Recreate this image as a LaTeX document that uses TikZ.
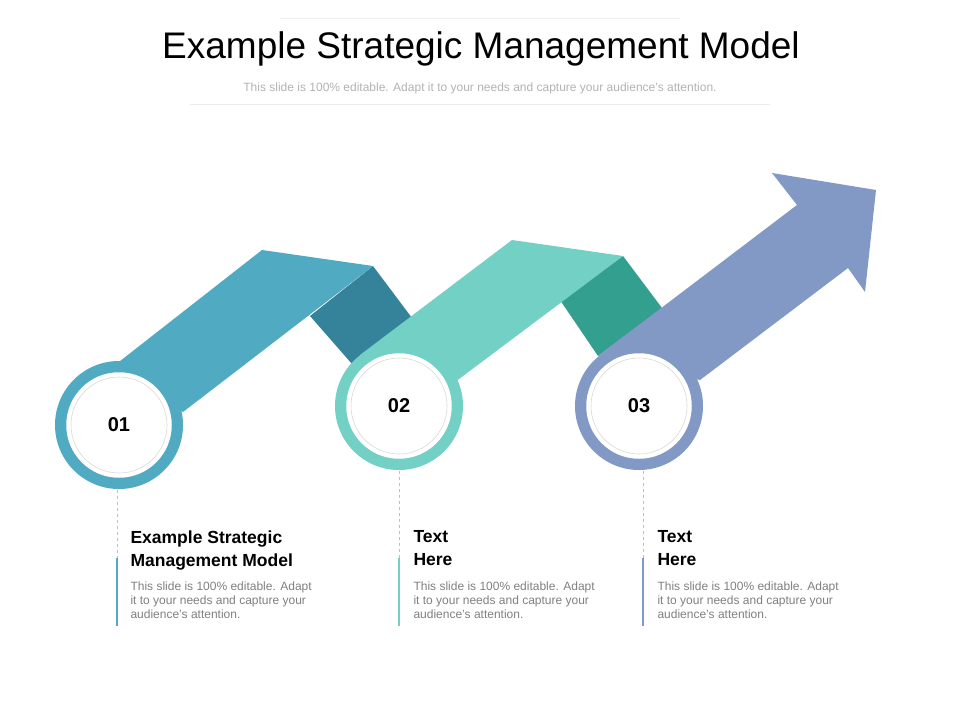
\documentclass[tikz,border=0pt]{standalone}
\usepackage{fontspec}
\setmainfont{Liberation Sans}
\definecolor{blueA}{HTML}{50AAC2}
\definecolor{blueD}{HTML}{35839A}
\definecolor{tealA}{HTML}{72D0C4}
\definecolor{tealD}{HTML}{339F8E}
\definecolor{lilac}{HTML}{8199C4}
\definecolor{txtgray}{HTML}{7F7F7F}
\begin{document}
\begin{tikzpicture}[x=1pt,y=-1pt]
\tikzset{
ring/.style={circle,draw=white,line width=1.5pt,fill=white,minimum size=104pt},
num/.style={font=\bfseries\fontsize{20}{22}\selectfont},
head/.style={anchor=north west,align=left,font=\bfseries\fontsize{17.5}{23}\selectfont},
body/.style={anchor=north west,align=left,text=txtgray,font=\fontsize{12}{14}\selectfont}
}
\newcommand\stepcirc[4]{
\fill[#4] (#1,#2) circle (64);
\node[ring] (#3) at (#1,#2) {};
\draw[black!15,line width=0.6pt] (#1,#2) circle (48);
}
\useasboundingbox (0,0) rectangle (960,720);
% title
\node (title) at (481,49) {\fontsize{37}{40}\selectfont Example Strategic Management Model};
\node[text=black!30] (sub) at (480,88) {\fontsize{12}{13}\selectfont This slide is 100\% editable. Adapt it to your needs and capture your audience's attention.};
\draw[black!6] (280,18) -- (680,18);
\draw[black!8] (190,104) -- (770,104);
% folds
\fill[blueD] (310,316) -- (373,266) -- (412,318) -- (352,364) -- cycle;
\fill[tealD] (560,300) -- (623,256) -- (662,308) -- (598,356) -- cycle;
% bands
\fill[blueA] (115,365) -- (262,250) -- (373,266) -- (183,412) -- cycle;
\fill[tealA] (360,355) -- (512,240) -- (623,256) -- (455,382) -- cycle;
\fill[lilac] (598,356) -- (797,205) -- (772,173) -- (876,190) -- (865,292) -- (848,268) -- (700,380) -- cycle;
% circles
\stepcirc{119}{425}{c1}{blueA}
\stepcirc{399}{406}{c2}{tealA}
\stepcirc{639}{406}{c3}{lilac}
\node[num] at (c1) {01};
\node[num] at (c2) {02};
\node[num] at (c3) {03};
% connectors
\coordinate (e1) at (117,558); \coordinate (f1) at (117,626);
\coordinate (e2) at (399,558); \coordinate (f2) at (399,626);
\coordinate (e3) at (643,558); \coordinate (f3) at (643,626);
\draw[black!25,dashed,line width=1pt] (117,490) -- (e1);
\draw[black!25,dashed,line width=1pt] (399,471) -- (e2);
\draw[black!25,dashed,line width=1pt] (643,471) -- (e3);
\draw[blueA,line width=1.2pt] (e1) -- (f1);
\draw[tealA,line width=1.2pt] (e2) -- (f2);
\draw[lilac,line width=1.2pt] (e3) -- (f3);
% texts
\node[head] (h1) at (127,527) {Example Strategic\\Management Model};
\node[head] (h2) at (410,527) {Text\\Here};
\node[head] (h3) at (654,527) {Text\\Here};
\node[body] (b1) at (127,578) {This slide is 100\% editable. Adapt\\it to your needs and capture your\\audience's attention.};
\node[body] (b2) at (410,578) {This slide is 100\% editable. Adapt\\it to your needs and capture your\\audience's attention.};
\node[body] (b3) at (654,578) {This slide is 100\% editable. Adapt\\it to your needs and capture your\\audience's attention.};
\end{tikzpicture}
\end{document}
